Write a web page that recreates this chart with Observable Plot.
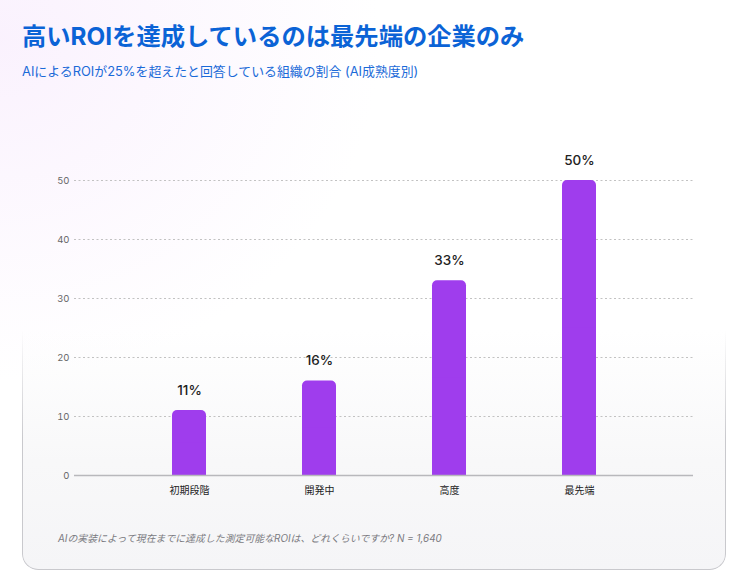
<!DOCTYPE html>
<html lang="ja">
<head>
<meta charset="utf-8">
<script src="https://cdn.jsdelivr.net/npm/d3@7"></script>
<script src="https://cdn.jsdelivr.net/npm/@observablehq/plot@0.6"></script>
<style>
  html, body { margin: 0; padding: 0; }
  body {
    width: 750px; height: 584px; position: relative; overflow: hidden;
    font-family: Inter, "Noto Sans CJK JP", sans-serif;
    background:
      radial-gradient(ellipse 380px 340px at 0px 40px, rgba(248, 236, 253, 0.7), rgba(255,255,255,0) 100%),
      #ffffff;
  }
  .card {
    position: absolute; left: 22px; top: 330px; width: 704px; height: 240px;
    border-radius: 0 0 16px 16px;
    background: linear-gradient(to bottom, rgba(245,245,247,0) 0%, #f8f8f9 55%, #f5f5f7 100%);
  }
  .card::before {
    content: ""; position: absolute; inset: 0;
    border: 1.2px solid #c9c9cd; border-top: none;
    border-radius: 0 0 16px 16px;
    -webkit-mask-image: linear-gradient(to bottom, transparent 0%, #000 45%);
    mask-image: linear-gradient(to bottom, transparent 0%, #000 45%);
  }
  h1 {
    position: absolute; left: 22px; top: 17px; margin: 0;
    font-size: 24.3px; font-weight: 700; color: #0b63d6;
    white-space: nowrap;
  }
  .sub {
    position: absolute; left: 22px; top: 61px; margin: 0;
    font-size: 12.9px; color: #1a6ad8; white-space: nowrap;
  }
  #chart { position: absolute; left: 0; top: 150px; }
  .note {
    position: absolute; left: 58px; top: 531px; margin: 0;
    font-size: 9.9px; font-style: italic; color: #7a7a80; white-space: nowrap;
  }
</style>
</head>
<body>
<div class="card"></div>
<h1>高いROIを達成しているのは最先端の企業のみ</h1>
<p class="sub">AIによるROIが25%を超えたと回答している組織の割合 (AI成熟度別)</p>
<div id="chart"></div>
<p class="note">AIの実装によって現在までに達成した測定可能なROIは、どれくらいですか? N = 1,640</p>
<script>
// AI maturity stages and share of organisations reporting ROI above 25%
const stages = ["初期段階", "開発中", "高度", "最先端"];
const shares = [11, 16, 33, 50];
const yTicks = [0, 10, 20, 30, 40, 50];

const rows = stages.map((stage, i) => ({stage, share: shares[i]}));
const barColor = "#9f3ded";

const chart = Plot.plot({
  width: 750,
  height: 370,
  marginLeft: 74,
  marginRight: 57,
  marginTop: 30,
  marginBottom: 45,
  style: {background: "transparent", fontFamily: "Inter, 'Noto Sans CJK JP', sans-serif", overflow: "visible"},
  x: {domain: stages, padding: 0.74, label: null},
  y: {domain: [0, 50], label: null},
  marks: [
    Plot.gridY(yTicks, {stroke: "#c2c2c2", strokeOpacity: 1, strokeDasharray: "2,2.5", strokeWidth: 1}),
    Plot.axisY(yTicks, {tickSize: 0, tickPadding: 5, fontSize: 9.5, fill: "#666", label: null}),
    Plot.axisX({tickSize: 0, tickPadding: 11, fontSize: 10, fill: "#222", label: null}),
    // rounded bar tops
    Plot.barY(rows, {x: "stage", y: "share", fill: barColor, rx: 5}),
    // square off the lower half of each bar
    Plot.barY(rows, {x: "stage", y1: 0, y2: d => d.share / 2, fill: barColor}),
    Plot.ruleY([0], {stroke: "#b8b8bc", strokeWidth: 1.5}),
    Plot.text(rows, {x: "stage", y: "share", text: d => `${d.share}%`, dy: -20, fontSize: 13.5, fontWeight: 500, fill: "#222"})
  ]
});
document.getElementById("chart").appendChild(chart);
</script>
</body>
</html>
